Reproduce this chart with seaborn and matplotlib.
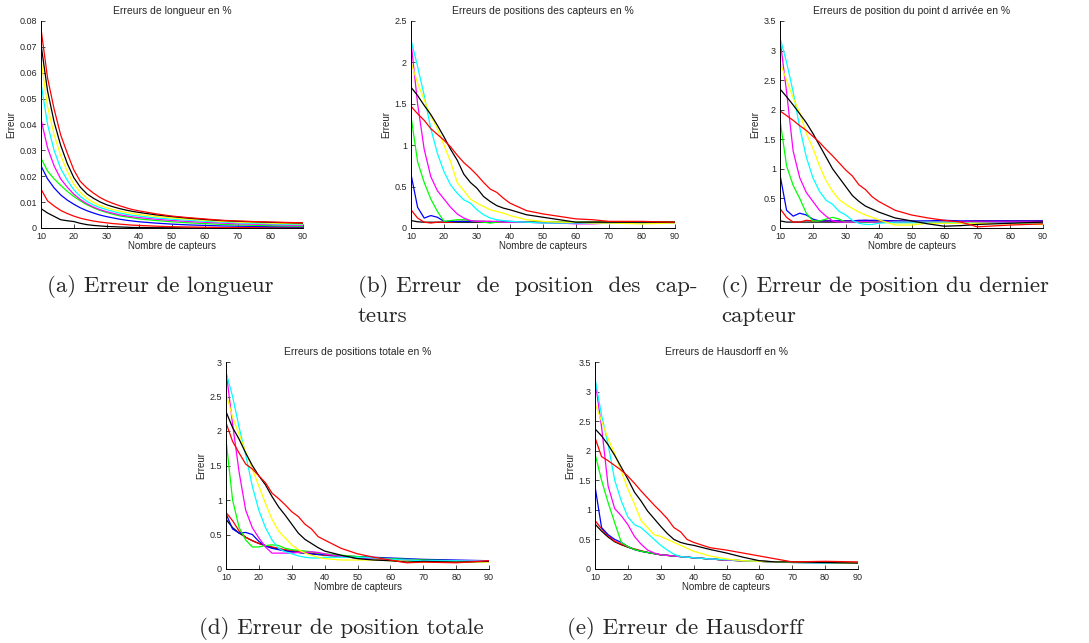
import matplotlib
matplotlib.use("Agg")
import matplotlib.pyplot as plt
from matplotlib.ticker import FuncFormatter
import seaborn as sns

# abscisse commune : nombre de capteurs
capteurs = [10, 12, 14, 16, 18, 20, 22, 24, 26, 28, 30, 32, 34, 36, 38, 40, 45, 50, 55, 60, 65, 70, 80, 90]
# couleurs pures façon matlab
couleurs = ["#000000", "#ff0000", "#0000ff", "#00ff00", "#ff00ff", "#00ffff", "#ffff00", "#000000", "#ff0000"]

# (a) erreur de longueur
a_k1 = [0.0075, 0.0058, 0.0045, 0.0032, 0.0028, 0.0025, 0.0018, 0.0013, 0.001, 0.0008, 0.0006, 0.0005, 0.0004, 0.0003, 0.0002, 0.0002, 0.0001, 0.0001, 0, 0, 0, 0, 0, 0]
a_r1 = [0.015, 0.0105, 0.0085, 0.0068, 0.0056, 0.0046, 0.0038, 0.0032, 0.0027, 0.0023, 0.002, 0.0017, 0.0015, 0.0013, 0.0011, 0.001, 0.0007, 0.0005, 0.0004, 0.0003, 0.0002, 0.0002, 0.0001, 0.0001]
a_b = [0.024, 0.019, 0.0155, 0.0128, 0.0108, 0.0092, 0.0078, 0.0067, 0.0058, 0.005, 0.0044, 0.0039, 0.0034, 0.003, 0.0027, 0.0024, 0.0019, 0.0015, 0.0012, 0.001, 0.0008, 0.0007, 0.0005, 0.0004]
a_g = [0.027, 0.022, 0.019, 0.0165, 0.0142, 0.0122, 0.0105, 0.009, 0.0078, 0.0068, 0.006, 0.0053, 0.0047, 0.0043, 0.0039, 0.0035, 0.0029, 0.0024, 0.002, 0.0017, 0.0014, 0.0012, 0.0009, 0.0007]
a_m = [0.042, 0.031, 0.024, 0.019, 0.0158, 0.0131, 0.011, 0.0094, 0.0081, 0.0071, 0.0063, 0.0057, 0.0051, 0.0047, 0.0043, 0.004, 0.0034, 0.0029, 0.0025, 0.0022, 0.0019, 0.0016, 0.0013, 0.001]
a_c = [0.056, 0.040, 0.030, 0.023, 0.0185, 0.0148, 0.0122, 0.0103, 0.0089, 0.0079, 0.0071, 0.0064, 0.0058, 0.0053, 0.0049, 0.0046, 0.0039, 0.0034, 0.003, 0.0026, 0.0023, 0.002, 0.0016, 0.0013]
a_y = [0.065, 0.047, 0.036, 0.028, 0.022, 0.017, 0.0138, 0.0115, 0.0099, 0.0087, 0.0078, 0.0071, 0.0065, 0.006, 0.0056, 0.0052, 0.0045, 0.0039, 0.0034, 0.003, 0.0026, 0.0023, 0.0019, 0.0016]
a_k2 = [0.071, 0.053, 0.041, 0.032, 0.025, 0.0195, 0.0158, 0.0132, 0.0115, 0.0101, 0.009, 0.0082, 0.0075, 0.0069, 0.0064, 0.006, 0.0051, 0.0044, 0.0038, 0.0033, 0.0029, 0.0026, 0.0022, 0.0019]
a_r2 = [0.077, 0.058, 0.046, 0.036, 0.029, 0.0225, 0.018, 0.0155, 0.0135, 0.0118, 0.0105, 0.0095, 0.0086, 0.0078, 0.0071, 0.0066, 0.0055, 0.0046, 0.004, 0.0035, 0.003, 0.0027, 0.0023, 0.002]

# (b) erreur de position des capteurs
b_k1 = [0.09, 0.075, 0.07, 0.07, 0.07, 0.07, 0.07, 0.07, 0.07, 0.07, 0.07, 0.07, 0.07, 0.07, 0.07, 0.07, 0.07, 0.07, 0.07, 0.07, 0.07, 0.07, 0.07, 0.07]
b_r1 = [0.22, 0.12, 0.07, 0.06, 0.07, 0.07, 0.07, 0.08, 0.08, 0.08, 0.08, 0.08, 0.08, 0.07, 0.07, 0.07, 0.07, 0.07, 0.06, 0.06, 0.07, 0.07, 0.07, 0.07]
b_b = [0.65, 0.25, 0.12, 0.15, 0.13, 0.08, 0.08, 0.08, 0.08, 0.08, 0.08, 0.08, 0.07, 0.08, 0.08, 0.08, 0.07, 0.07, 0.06, 0.06, 0.06, 0.06, 0.06, 0.06]
b_g = [1.35, 0.8, 0.55, 0.35, 0.2, 0.08, 0.09, 0.1, 0.1, 0.09, 0.08, 0.07, 0.06, 0.07, 0.07, 0.07, 0.07, 0.07, 0.07, 0.07, 0.07, 0.07, 0.07, 0.07]
b_m = [2.25, 1.5, 0.95, 0.62, 0.45, 0.35, 0.25, 0.17, 0.12, 0.09, 0.08, 0.08, 0.08, 0.08, 0.07, 0.07, 0.07, 0.06, 0.06, 0.05, 0.05, 0.06, 0.06, 0.06]
b_c = [2.27, 1.95, 1.6, 1.2, 0.9, 0.68, 0.52, 0.42, 0.34, 0.3, 0.22, 0.16, 0.12, 0.1, 0.09, 0.08, 0.07, 0.06, 0.06, 0.06, 0.06, 0.06, 0.06, 0.06]
b_y = [2.0, 1.75, 1.55, 1.35, 1.2, 1.0, 0.8, 0.55, 0.45, 0.35, 0.3, 0.26, 0.22, 0.2, 0.18, 0.15, 0.1, 0.08, 0.07, 0.07, 0.06, 0.06, 0.05, 0.06]
b_k2 = [1.7, 1.6, 1.48, 1.37, 1.24, 1.1, 0.95, 0.82, 0.65, 0.55, 0.48, 0.38, 0.32, 0.27, 0.24, 0.22, 0.16, 0.13, 0.1, 0.07, 0.07, 0.07, 0.07, 0.07]
b_r2 = [1.47, 1.38, 1.3, 1.2, 1.13, 1.06, 0.98, 0.88, 0.79, 0.72, 0.64, 0.55, 0.47, 0.43, 0.36, 0.3, 0.21, 0.17, 0.14, 0.11, 0.1, 0.08, 0.08, 0.07]

# (c) erreur de position du dernier capteur
c_k1 = [0.12, 0.1, 0.1, 0.1, 0.1, 0.1, 0.1, 0.1, 0.1, 0.1, 0.1, 0.1, 0.1, 0.1, 0.1, 0.1, 0.1, 0.1, 0.1, 0.1, 0.1, 0.1, 0.1, 0.1]
c_r1 = [0.33, 0.18, 0.1, 0.1, 0.13, 0.12, 0.12, 0.12, 0.12, 0.12, 0.12, 0.12, 0.12, 0.13, 0.12, 0.12, 0.12, 0.11, 0.11, 0.11, 0.11, 0.12, 0.12, 0.12]
c_b = [0.9, 0.3, 0.2, 0.25, 0.22, 0.15, 0.12, 0.12, 0.12, 0.12, 0.12, 0.12, 0.13, 0.13, 0.13, 0.13, 0.12, 0.12, 0.12, 0.13, 0.12, 0.12, 0.12, 0.12]
c_g = [1.83, 1.05, 0.72, 0.5, 0.25, 0.12, 0.12, 0.15, 0.18, 0.15, 0.1, 0.1, 0.1, 0.1, 0.1, 0.1, 0.09, 0.09, 0.09, 0.09, 0.09, 0.09, 0.08, 0.08]
c_m = [3.2, 2.3, 1.3, 0.85, 0.6, 0.45, 0.3, 0.2, 0.12, 0.1, 0.1, 0.1, 0.1, 0.11, 0.1, 0.1, 0.1, 0.1, 0.1, 0.1, 0.1, 0.1, 0.1, 0.1]
c_c = [3.22, 2.8, 2.3, 1.7, 1.2, 0.85, 0.62, 0.47, 0.4, 0.28, 0.22, 0.13, 0.08, 0.06, 0.06, 0.08, 0.1, 0.1, 0.1, 0.1, 0.09, 0.08, 0.08, 0.08]
c_y = [2.8, 2.5, 2.2, 1.95, 1.6, 1.35, 1.05, 0.8, 0.62, 0.48, 0.4, 0.33, 0.27, 0.22, 0.18, 0.14, 0.05, 0.05, 0.08, 0.08, 0.08, 0.08, 0.07, 0.06]
c_k2 = [2.35, 2.22, 2.08, 1.93, 1.78, 1.6, 1.4, 1.2, 1.0, 0.85, 0.7, 0.55, 0.45, 0.37, 0.32, 0.27, 0.17, 0.12, 0.07, 0.03, 0.04, 0.06, 0.08, 0.1]
c_r2 = [1.98, 1.9, 1.82, 1.73, 1.65, 1.55, 1.45, 1.33, 1.22, 1.1, 0.98, 0.88, 0.73, 0.65, 0.53, 0.45, 0.3, 0.22, 0.17, 0.13, 0.1, 0.02, 0.05, 0.07]

# (d) erreur de position totale
d_k1 = [0.72, 0.6, 0.52, 0.46, 0.41, 0.37, 0.34, 0.31, 0.29, 0.27, 0.25, 0.24, 0.23, 0.22, 0.21, 0.2, 0.18, 0.16, 0.15, 0.14, 0.13, 0.13, 0.12, 0.11]
d_r1 = [0.82, 0.7, 0.55, 0.46, 0.41, 0.37, 0.34, 0.32, 0.3, 0.28, 0.27, 0.25, 0.24, 0.23, 0.22, 0.2, 0.19, 0.17, 0.15, 0.14, 0.13, 0.13, 0.12, 0.12]
d_b = [0.8, 0.58, 0.52, 0.53, 0.5, 0.4, 0.33, 0.3, 0.28, 0.26, 0.25, 0.24, 0.23, 0.22, 0.21, 0.21, 0.19, 0.18, 0.17, 0.16, 0.15, 0.14, 0.13, 0.12]
d_g = [1.88, 1.0, 0.6, 0.42, 0.32, 0.32, 0.34, 0.35, 0.34, 0.3, 0.28, 0.27, 0.26, 0.25, 0.23, 0.22, 0.2, 0.18, 0.16, 0.15, 0.14, 0.13, 0.12, 0.11]
d_m = [2.88, 2.1, 1.4, 0.85, 0.6, 0.45, 0.32, 0.23, 0.23, 0.23, 0.23, 0.24, 0.24, 0.25, 0.24, 0.22, 0.18, 0.16, 0.15, 0.14, 0.13, 0.12, 0.12, 0.12]
d_c = [2.85, 2.5, 2.05, 1.65, 1.2, 0.85, 0.6, 0.42, 0.3, 0.25, 0.22, 0.19, 0.17, 0.16, 0.16, 0.17, 0.17, 0.17, 0.16, 0.14, 0.13, 0.12, 0.12, 0.11]
d_y = [2.55, 2.2, 1.95, 1.7, 1.45, 1.2, 0.95, 0.72, 0.55, 0.45, 0.35, 0.28, 0.23, 0.2, 0.17, 0.15, 0.13, 0.13, 0.13, 0.12, 0.11, 0.1, 0.1, 0.1]
d_k2 = [2.28, 2.05, 1.88, 1.68, 1.5, 1.35, 1.22, 1.05, 0.9, 0.78, 0.65, 0.52, 0.43, 0.37, 0.31, 0.26, 0.2, 0.15, 0.13, 0.12, 0.1, 0.11, 0.1, 0.11]
d_r2 = [2.12, 1.85, 1.68, 1.52, 1.45, 1.35, 1.25, 1.1, 1.02, 0.93, 0.83, 0.76, 0.65, 0.58, 0.47, 0.42, 0.3, 0.22, 0.17, 0.13, 0.09, 0.1, 0.09, 0.12]

# (e) erreur de Hausdorff
e_k1 = [0.76, 0.64, 0.54, 0.46, 0.41, 0.37, 0.33, 0.3, 0.28, 0.26, 0.24, 0.23, 0.22, 0.21, 0.2, 0.19, 0.17, 0.15, 0.14, 0.13, 0.12, 0.12, 0.11, 0.1]
e_r1 = [0.82, 0.68, 0.56, 0.47, 0.42, 0.37, 0.34, 0.31, 0.28, 0.26, 0.24, 0.23, 0.22, 0.21, 0.2, 0.19, 0.17, 0.15, 0.14, 0.13, 0.12, 0.12, 0.11, 0.11]
e_b = [1.4, 0.7, 0.58, 0.5, 0.45, 0.38, 0.33, 0.3, 0.28, 0.26, 0.24, 0.23, 0.22, 0.21, 0.2, 0.19, 0.17, 0.15, 0.14, 0.13, 0.12, 0.12, 0.11, 0.1]
e_g = [1.95, 1.5, 1.12, 0.78, 0.45, 0.38, 0.33, 0.3, 0.28, 0.26, 0.24, 0.23, 0.22, 0.21, 0.2, 0.19, 0.17, 0.15, 0.14, 0.13, 0.12, 0.11, 0.1, 0.1]
e_m = [3.2, 2.4, 1.4, 1.02, 0.9, 0.75, 0.55, 0.42, 0.32, 0.27, 0.24, 0.23, 0.22, 0.21, 0.2, 0.19, 0.17, 0.15, 0.14, 0.13, 0.12, 0.11, 0.1, 0.1]
e_c = [3.22, 2.6, 2.1, 1.5, 1.15, 0.88, 0.75, 0.7, 0.6, 0.5, 0.4, 0.32, 0.25, 0.21, 0.2, 0.19, 0.17, 0.16, 0.14, 0.13, 0.12, 0.11, 0.1, 0.1]
e_y = [2.8, 2.5, 2.2, 1.95, 1.65, 1.35, 1.1, 0.82, 0.7, 0.58, 0.55, 0.5, 0.45, 0.4, 0.35, 0.3, 0.22, 0.17, 0.14, 0.13, 0.12, 0.12, 0.11, 0.1]
e_k2 = [2.37, 2.25, 2.1, 1.92, 1.72, 1.52, 1.3, 1.15, 0.98, 0.85, 0.72, 0.6, 0.5, 0.45, 0.42, 0.4, 0.33, 0.27, 0.2, 0.14, 0.12, 0.12, 0.11, 0.1]
e_r2 = [2.22, 1.9, 1.83, 1.75, 1.67, 1.57, 1.45, 1.32, 1.2, 1.08, 0.97, 0.85, 0.7, 0.63, 0.5, 0.45, 0.36, 0.32, 0.27, 0.22, 0.17, 0.12, 0.13, 0.12]

titres = ["Erreurs de longueur en %", "Erreurs de positions des capteurs en %",
          "Erreurs de position du point d arrivée en %", "Erreurs de positions totale en %",
          "Erreurs de Hausdorff en %"]
ymax = [0.08, 2.5, 3.5, 3, 3.5]
ypas = [0.01, 0.5, 0.5, 0.5, 0.5]

courbes = [
    [a_k1, a_r1, a_b, a_g, a_m, a_c, a_y, a_k2, a_r2],
    [b_k1, b_r1, b_b, b_g, b_m, b_c, b_y, b_k2, b_r2],
    [c_k1, c_r1, c_b, c_g, c_m, c_c, c_y, c_k2, c_r2],
    [d_k1, d_r1, d_b, d_g, d_m, d_c, d_y, d_k2, d_r2],
    [e_k1, e_r1, e_b, e_g, e_m, e_c, e_y, e_k2, e_r2],
]

sns.set_style("ticks")
plt.rcParams["font.family"] = ["Liberation Sans", "DejaVu Sans"]

W, H = 1089, 643
fig = plt.figure(figsize=(W / 100, H / 100), dpi=100)

# positions des axes en pixels : gauche, haut, droite, bas
cadres = [(41, 21, 303, 228), (411, 21, 675, 228), (780, 21, 1043, 228),
          (226, 362, 489, 569), (595, 362, 858, 569)]

for i, (g, h, d, b) in enumerate(cadres):
    ax = fig.add_axes([g / W, 1 - b / H, (d - g) / W, (b - h) / H])
    for serie, col in zip(courbes[i], couleurs):
        sns.lineplot(x=capteurs, y=serie, color=col, linewidth=0.9, ax=ax)
    ax.set_xlim(10, 90)
    ax.set_ylim(0, ymax[i])
    ax.set_xticks(range(10, 91, 10))
    n = int(round(ymax[i] / ypas[i]))
    ax.set_yticks([k * ypas[i] for k in range(n + 1)])
    ax.yaxis.set_major_formatter(FuncFormatter(lambda v, p: "%g" % round(v, 4)))
    ax.tick_params(direction="in", length=3, width=0.6, labelsize=6.5)
    ax.tick_params(axis="x", pad=3)
    ax.tick_params(axis="y", pad=3)
    for s in ["top", "right"]:
        ax.spines[s].set_visible(False)
    for s in ["left", "bottom"]:
        ax.spines[s].set_linewidth(0.7)
        ax.spines[s].set_color("black")
    ax.set_title(titres[i], fontsize=7.5, pad=5)
    ax.set_xlabel("Nombre de capteurs", fontsize=7, labelpad=0)
    ax.set_ylabel("Erreur", fontsize=7, labelpad=2)

# légendes des sous-figures
cap = dict(family="cmr10", fontsize=16.5, va="center", ha="left")
fig.text(47 / W, 1 - 287 / H, "(a) Erreur de longueur", **cap)
fig.text(358 / W, 1 - 287 / H, "(b) Erreur  de  position  des  cap-", **cap)
fig.text(358 / W, 1 - 316 / H, "teurs", **cap)
fig.text(721 / W, 1 - 287 / H, "(c) Erreur de position du dernier", **cap)
fig.text(721 / W, 1 - 316 / H, "capteur", **cap)
fig.text(199 / W, 1 - 628 / H, "(d) Erreur de position totale", **cap)
fig.text(567 / W, 1 - 628 / H, "(e) Erreur de Hausdorff", **cap)

fig.savefig("out.png", dpi=100, facecolor="white")
